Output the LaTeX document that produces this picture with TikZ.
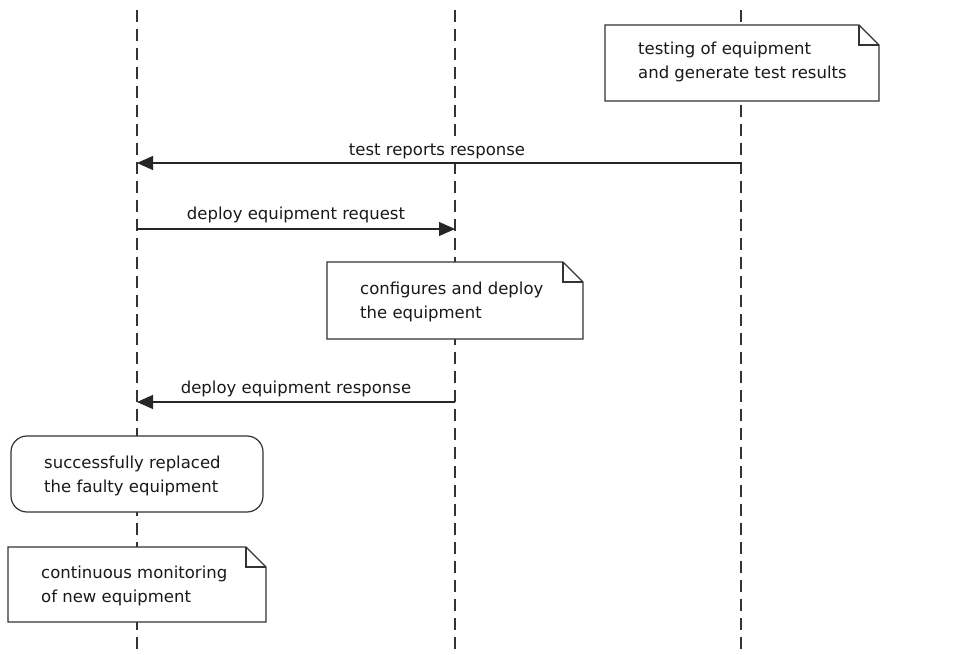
\documentclass[tikz,border=0pt]{standalone}
\usepackage{fontspec}
\setmainfont{DejaVu Sans}
\usetikzlibrary{arrows.meta,shapes.misc}
\begin{document}
\begin{tikzpicture}[x=1pt,y=-1pt,
  lifeline/.style={line width=1.4pt,dash pattern=on 12pt off 7pt,black!80},
  msg/.style={line width=1.2pt,black!85,-{Triangle[length=16pt,width=14pt]}},
  notebox/.style={draw=black!80,line width=1.2pt,fill=white},
  txt/.style={font=\fontsize{16.5}{19}\selectfont,inner sep=0pt,anchor=base west,text=black!90},
  lbl/.style={font=\fontsize{16.5}{19}\selectfont,inner sep=1pt,outer sep=0pt,fill=white,anchor=base,text=black!90}]
\useasboundingbox (0,0) rectangle (953,655);
% lifelines
\coordinate (a1) at (137,10); \coordinate (a2) at (137,655);
\coordinate (b1) at (455,10); \coordinate (b2) at (455,655);
\coordinate (c1) at (741,10); \coordinate (c2) at (741,655);
\draw[lifeline] (a1) -- (a2);
\draw[lifeline] (b1) -- (b2);
\draw[lifeline] (c1) -- (c2);
% note 1
\draw[notebox] (605,25) -- (859,25) -- (879,45) -- (879,101) -- (605,101) -- cycle;
\draw[black!80,line width=1.2pt] (859,25) -- (859,45) -- (879,45);
\node[txt] (n1a) at (638,55) {testing of equipment};
\node[txt] (n1b) at (638,79) {and generate test results};
% message 1
\coordinate (m1s) at (741,163); \coordinate (m1e) at (137,163);
\draw[msg] (m1s) -- (m1e);
\node[lbl] (l1) at (437,156) {test reports response};
% message 2
\coordinate (m2s) at (137,229); \coordinate (m2e) at (455,229);
\draw[msg] (m2s) -- (m2e);
\node[lbl] (l2) at (296,219) {deploy equipment request};
% note 2
\draw[notebox] (327,262) -- (563,262) -- (583,282) -- (583,339) -- (327,339) -- cycle;
\draw[black!80,line width=1.2pt] (563,262) -- (563,282) -- (583,282);
\node[txt] (n2a) at (360,294) {configures and deploy};
\node[txt] (n2b) at (360,318) {the equipment};
% message 3
\coordinate (m3s) at (455,402); \coordinate (m3e) at (137,402);
\draw[msg] (m3s) -- (m3e);
\node[lbl] (l3) at (296,393) {deploy equipment response};
% rounded box
\draw[notebox,rounded corners=16pt] (11,436) rectangle (263,512);
\node[txt] (r1) at (44,468) {successfully replaced};
\node[txt] (r2) at (44,492) {the faulty equipment};
% note 3
\draw[notebox] (8,547) -- (246,547) -- (266,567) -- (266,622) -- (8,622) -- cycle;
\draw[black!80,line width=1.2pt] (246,547) -- (246,567) -- (266,567);
\node[txt] (n3a) at (41,578) {continuous monitoring};
\node[txt] (n3b) at (41,602) {of new equipment};
\end{tikzpicture}
\end{document}
